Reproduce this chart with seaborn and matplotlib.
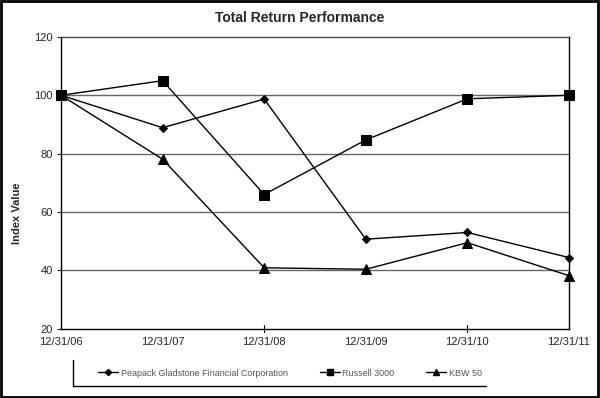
import matplotlib
matplotlib.use("Agg")
import matplotlib.pyplot as plt
import seaborn as sns
import pandas as pd
from matplotlib.lines import Line2D
from matplotlib.patches import Rectangle

dates = ["12/31/06", "12/31/07", "12/31/08", "12/31/09", "12/31/10", "12/31/11"]
peapack = [100, 88.9, 98.7, 50.7, 53.0, 44.4]
russell = [100, 105.0, 66.0, 84.7, 98.8, 100.0]
kbw = [100, 78.1, 40.9, 40.4, 49.5, 38.2]
series_names = ["Peapack Gladstone Financial Corporation", "Russell 3000", "KBW 50"]
y_ticks = [20, 40, 60, 80, 100, 120]

rows = []
for name, vals in zip(series_names, [peapack, russell, kbw]):
    for i, (d, v) in enumerate(zip(dates, vals)):
        rows.append({"Date": d, "pos": i, "Value": v, "Series": name})
df = pd.DataFrame(rows)

sns.set_style("white")
plt.rcParams['font.family'] = ['Liberation Sans', 'DejaVu Sans']

fig = plt.figure(figsize=(6, 3.98), dpi=100)
ax = fig.add_axes([61/600, 1-328.8/398, (569-61)/600, (328.8-36.9)/398])

markers = {series_names[0]: "D", series_names[1]: "s", series_names[2]: "^"}
sizes_ms = {series_names[0]: 4.5, series_names[1]: 7, series_names[2]: 6.5}
for name in series_names:
    sub = df[df["Series"] == name]
    sns.lineplot(data=sub, x="pos", y="Value", ax=ax, color="black", lw=1.0,
                 marker=markers[name], markersize=sizes_ms[name],
                 markeredgecolor="black", markerfacecolor="black",
                 label=name, legend=False, clip_on=False, zorder=3)

ax.set_xlim(0, 5)
ax.set_ylim(20, 120)
ax.set_yticks(y_ticks)
ax.set_yticklabels([str(t) for t in y_ticks], fontsize=8)
ax.set_xticks(range(len(dates)))
ax.set_xticklabels(dates, fontsize=8)
ax.tick_params(axis='x', length=0, pad=6)
ax.tick_params(axis='y', length=3, width=0.8, direction='out', left=True, pad=3)
ax.set_xlabel("")
ax.set_ylabel("Index Value", fontsize=8, fontweight="bold")
ax.yaxis.set_label_coords((22-61)/508, (328.8-213)/291.9)

for yv in [40, 60, 80, 100]:
    ax.axhline(yv, color="#666666", lw=1.0, zorder=1)
for xv in [2, 4]:
    ax.plot([xv, xv], [20 - 1.2, 20 + 1.2], color="black", lw=0.8, clip_on=False, zorder=4)

for s in ax.spines.values():
    s.set_visible(True)
    s.set_color("black")
    s.set_linewidth(1.0)
ax.spines["top"].set_color("#444444")

fig.text(300/600, 1-18/398, "Total Return Performance", ha="center", va="center",
         fontsize=10, fontweight="bold")

handles = [Line2D([0], [0], color="black", lw=1, marker=markers[n], markersize=sizes_ms[n]*0.7,
                  markerfacecolor="black") for n in series_names]
leg = fig.legend(handles, series_names, loc="center", bbox_to_anchor=(290/600, 1-373/398),
                 ncol=3, frameon=False, fontsize=6.5, handlelength=2.2, handletextpad=0.3,
                 columnspacing=3.5)
for t in leg.get_texts():
    t.set_color("#555555")

fig.add_artist(Line2D([73/600, 73/600], [1-360/398, 1-386/398], color="black", lw=1))
fig.add_artist(Line2D([73/600, 486/600], [1-386/398, 1-386/398], color="black", lw=1))
fig.add_artist(Rectangle((0.002, 0.003), 0.995, 0.994, transform=fig.transFigure,
                         fill=False, edgecolor="black", lw=2))

fig.savefig("out.png", dpi=100)
